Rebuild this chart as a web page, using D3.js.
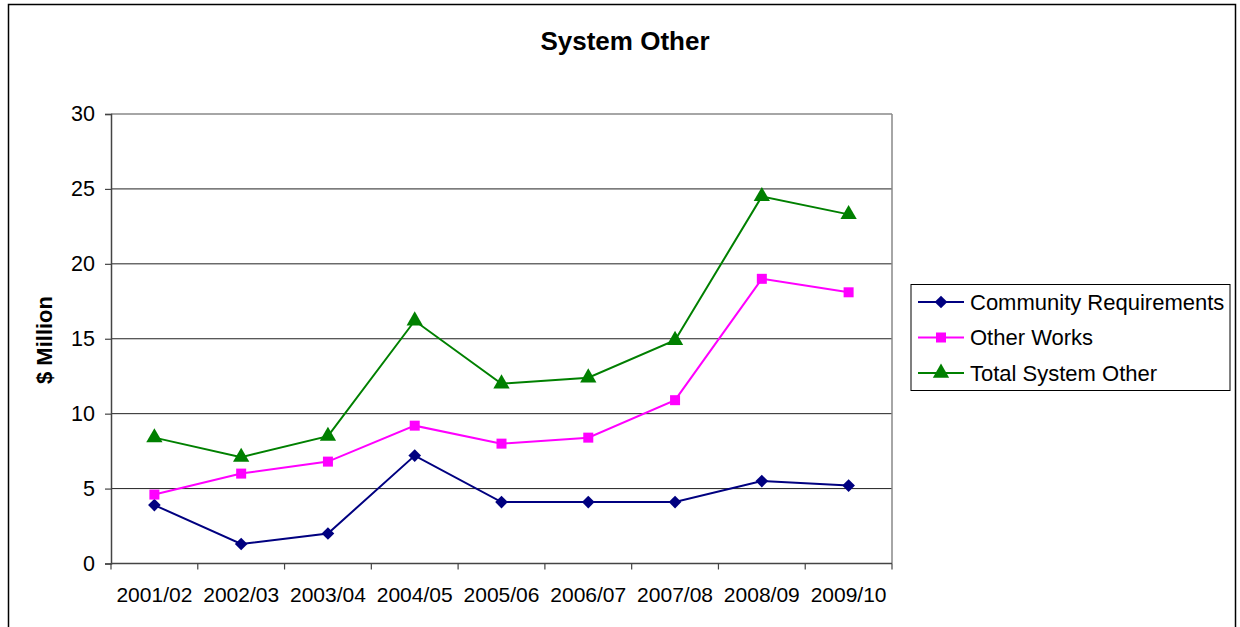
<!DOCTYPE html>
<html>
<head>
<meta charset="utf-8">
<script src="https://cdn.jsdelivr.net/npm/d3@7"></script>
<style>
  html, body { margin: 0; padding: 0; background: #fff; }
  svg { display: block; font-family: "Liberation Sans", Arial, sans-serif; }
</style>
</head>
<body>
<svg id="chart" width="1240" height="627"></svg>
<script>
// Financial years on the category axis
const years = ["2001/02", "2002/03", "2003/04", "2004/05", "2005/06", "2006/07", "2007/08", "2008/09", "2009/10"];

// Series values, $ million
const communityRequirements = [3.9, 1.3, 2.0, 7.2, 4.1, 4.1, 4.1, 5.5, 5.2];
const otherWorks = [4.6, 6.0, 6.8, 9.2, 8.0, 8.4, 10.9, 19.0, 18.1];
const totalSystemOther = [8.4, 7.1, 8.5, 16.2, 12.0, 12.4, 14.9, 24.5, 23.3];

const seriesNames = ["Community Requirements", "Other Works", "Total System Other"];
const yTicks = [0, 5, 10, 15, 20, 25, 30];

// Markers: diamond is a square turned 45 degrees
const seriesList = [
  { name: seriesNames[0], values: communityRequirements, color: "#000080", symbol: d3.symbolSquare, size: 80, rotate: 45 },
  { name: seriesNames[1], values: otherWorks, color: "#ff00ff", symbol: d3.symbolSquare, size: 100, rotate: 0 },
  { name: seriesNames[2], values: totalSystemOther, color: "#008000", symbol: d3.symbolTriangle, size: 115, rotate: 0 }
];

const svg = d3.select("#chart");

// Outer chart frame
svg.append("rect")
  .attr("x", 8.5).attr("y", 4.5)
  .attr("width", 1227).attr("height", 640)
  .attr("fill", "#fff")
  .attr("stroke", "#000").attr("stroke-width", 1.5);

const plot = { left: 111, top: 114, right: 892, bottom: 563.5 };

const x = d3.scaleBand()
  .domain(years)
  .range([plot.left, plot.right])
  .padding(0);

const y = d3.scaleLinear()
  .domain([0, 30])
  .range([plot.bottom, plot.top]);

// Horizontal gridlines
svg.append("g")
  .selectAll("line")
  .data(yTicks.filter(t => t > 0))
  .join("line")
  .attr("x1", plot.left).attr("x2", plot.right)
  .attr("y1", d => y(d)).attr("y2", d => y(d))
  .attr("stroke", d => d === 30 ? "#888" : "#222")
  .attr("stroke-width", d => d === 30 ? 1.5 : 1);

// Plot area right border
svg.append("line")
  .attr("x1", plot.right).attr("x2", plot.right)
  .attr("y1", plot.top).attr("y2", plot.bottom)
  .attr("stroke", "#888").attr("stroke-width", 1.5);

// Y axis
const yAxis = d3.axisLeft(y)
  .tickValues(yTicks)
  .tickSize(6)
  .tickPadding(10)
  .tickFormat(d3.format("d"));

const gy = svg.append("g")
  .attr("transform", `translate(${plot.left},0)`)
  .call(yAxis);
gy.select(".domain").attr("stroke", "#444").attr("stroke-width", 1.5);
gy.selectAll(".tick line").attr("stroke", "#444").attr("stroke-width", 1.2);
gy.selectAll(".tick text")
  .attr("font-size", 21.5)
  .attr("fill", "#000")
  .attr("font-family", "Liberation Sans, Arial, sans-serif");

// X axis: ticks on category boundaries
const gx = svg.append("g")
  .attr("transform", `translate(0,${plot.bottom})`);
gx.append("line")
  .attr("x1", plot.left).attr("x2", plot.right)
  .attr("y1", 0).attr("y2", 0)
  .attr("stroke", "#444").attr("stroke-width", 1.5);
const boundaries = years.map(d => x(d)).concat([x(years[years.length - 1]) + x.bandwidth()]);
gx.selectAll("line.tk")
  .data(boundaries)
  .join("line")
  .attr("class", "tk")
  .attr("x1", d => d).attr("x2", d => d)
  .attr("y1", 0).attr("y2", 6)
  .attr("stroke", "#444").attr("stroke-width", 1.2);
gx.selectAll("text")
  .data(years)
  .join("text")
  .attr("x", d => x(d) + x.bandwidth() / 2)
  .attr("y", 38.5)
  .attr("text-anchor", "middle")
  .attr("font-size", 21)
  .attr("fill", "#000")
  .text(d => d);

// Y axis title
svg.append("text")
  .attr("transform", `translate(52,340) rotate(-90)`)
  .attr("text-anchor", "middle")
  .attr("font-size", 22)
  .attr("font-weight", "bold")
  .attr("fill", "#000")
  .text("$ Million");

// Chart title
svg.append("text")
  .attr("x", 625)
  .attr("y", 50)
  .attr("text-anchor", "middle")
  .attr("font-size", 26)
  .attr("font-weight", "bold")
  .attr("fill", "#000")
  .text("System Other");

// Series lines and markers
const line = d3.line()
  .x((d, i) => x(years[i]) + x.bandwidth() / 2)
  .y(d => y(d));

seriesList.forEach(s => {
  const g = svg.append("g");
  g.append("path")
    .datum(s.values)
    .attr("d", line)
    .attr("fill", "none")
    .attr("stroke", s.color)
    .attr("stroke-width", 2);
  g.selectAll("path.m")
    .data(s.values)
    .join("path")
    .attr("class", "m")
    .attr("transform", (d, i) => `translate(${x(years[i]) + x.bandwidth() / 2},${y(d)}) rotate(${s.rotate})`)
    .attr("d", d3.symbol().type(s.symbol).size(s.size))
    .attr("fill", s.color);
});

// Legend
const legend = svg.append("g");
legend.append("rect")
  .attr("x", 911).attr("y", 284.5)
  .attr("width", 319).attr("height", 106)
  .attr("fill", "#fff")
  .attr("stroke", "#000").attr("stroke-width", 1);

seriesList.forEach((s, i) => {
  const cy = 302 + i * 35.5;
  legend.append("line")
    .attr("x1", 918).attr("x2", 964)
    .attr("y1", cy).attr("y2", cy)
    .attr("stroke", s.color).attr("stroke-width", 2);
  legend.append("path")
    .attr("transform", `translate(941,${cy}) rotate(${s.rotate})`)
    .attr("d", d3.symbol().type(s.symbol).size(s.size))
    .attr("fill", s.color);
  legend.append("text")
    .attr("x", 970)
    .attr("y", cy + 7.5)
    .attr("font-size", 22)
    .attr("fill", "#000")
    .text(s.name);
});
</script>
</body>
</html>
